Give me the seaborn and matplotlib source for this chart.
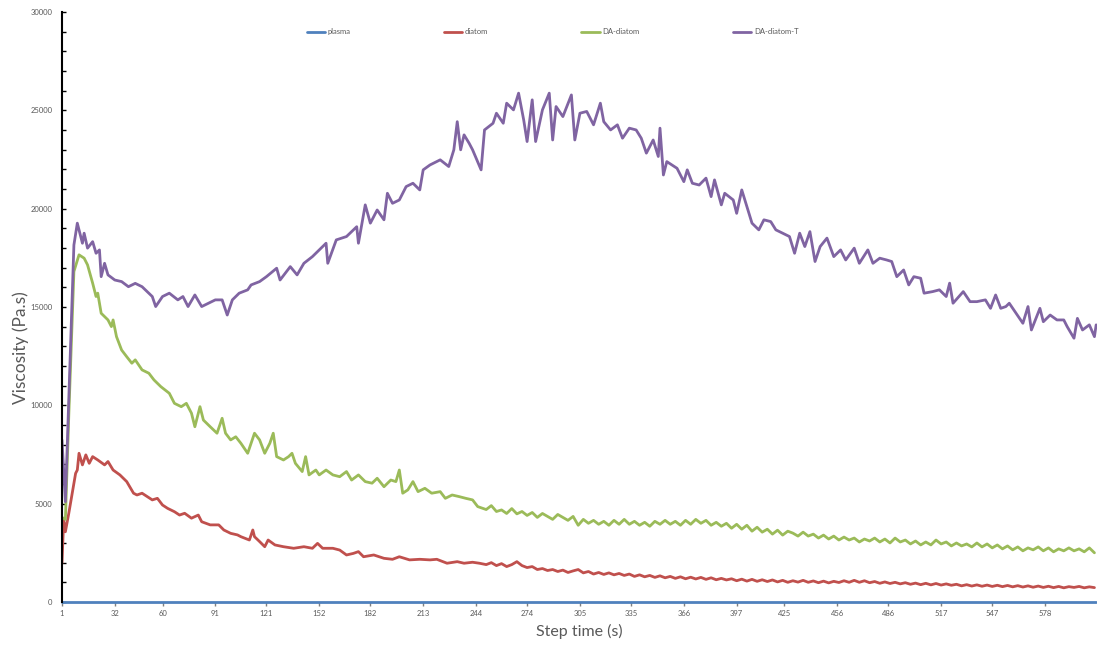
import numpy as np
import pandas as pd
import seaborn as sns
import matplotlib.pyplot as plt

# Шкала времени (с) и подписи оси X
tick_steps = [1, 32, 60, 91, 121, 152, 182, 213, 244, 274, 305, 335, 366, 397, 425, 456, 486, 517, 547, 578]

# plasma — практически нулевая вязкость
plasma_x = [1, 100, 200, 300, 400, 500, 608]
plasma_y = [10, 10, 10, 10, 10, 10, 10]

# diatom
diatom_x = [1, 2, 3, 5, 7, 9, 10, 11, 13, 15,
            17, 19, 22, 26, 28, 31, 35, 39, 43, 45,
            48, 51, 54, 57, 60, 63, 67, 70, 73, 77,
            81, 83, 88, 93, 96, 100, 104, 106, 111, 113,
            114, 117, 120, 122, 126, 131, 137, 143, 148, 151,
            154, 160, 164, 168, 172, 175, 178, 184, 190, 195,
            199, 205, 211, 217, 221, 227, 233, 237, 242, 246] + list(range(250, 608, 3))
diatom_y = [1970, 4170, 3570, 4510, 5530, 6540, 6710, 7560, 6970, 7480,
            7050, 7390, 7220, 6970, 7140, 6710, 6460, 6120, 5530, 5440,
            5530, 5360, 5190, 5270, 4930, 4760, 4590, 4420, 4510, 4260,
            4420, 4080, 3920, 3920, 3660, 3490, 3410, 3320, 3150, 3660,
            3320, 3070, 2810, 3150, 2900, 2810, 2730, 2810, 2730, 2980,
            2730, 2730, 2640, 2390, 2470, 2560, 2300, 2390, 2220, 2170,
            2300, 2140, 2170, 2140, 2170, 1970, 2050, 1970, 2020, 1970,
            1900, 2000, 1850, 1950, 1800, 1900, 2050, 1850, 1750, 1800,
            1650, 1700, 1600, 1650, 1550, 1620, 1500, 1580, 1650, 1480,
            1550, 1420, 1500, 1400, 1480, 1380, 1450, 1350, 1420, 1300,
            1380, 1280, 1350, 1250, 1330, 1230, 1300, 1200, 1280, 1180,
            1260, 1170, 1250, 1150, 1230, 1130, 1200, 1120, 1180, 1080,
            1160, 1060, 1150, 1050, 1130, 1040, 1120, 1020, 1100, 1000,
            1080, 1010, 1100, 1000, 1070, 980, 1060, 970, 1050, 990,
            1080, 1000, 1100, 1000, 1080, 980, 1040, 950, 1020, 940,
            1000, 920, 980, 900, 960, 880, 950, 870, 940, 860,
            920, 850, 900, 820, 880, 810, 870, 800, 860, 790,
            850, 780, 840, 770, 830, 760, 820, 750, 810, 740,
            800, 730, 790, 720, 780, 740, 790, 720, 770, 730]

# DA-diatom
da_x = [1, 3, 5, 8, 11, 14, 16, 19, 21, 22,
        24, 28, 30, 31, 33, 36, 39, 42, 44, 48,
        52, 55, 59, 64, 67, 71, 74, 77, 79, 82,
        84, 88, 92, 95, 97, 100, 103, 106, 110, 112,
        114, 117, 120, 123, 125, 127, 131, 134, 136, 138,
        142, 144, 146, 150, 152, 156, 160, 164, 168, 171,
        175, 179, 183, 186, 190, 194, 197, 199, 201, 204,
        207, 210, 214, 218, 223, 226, 230, 234, 238, 242,
        245] + list(range(250, 608, 3))
da_y = [4300, 4200, 9500, 16800, 17650, 17480, 17140, 16210, 15530, 15700,
        14680, 14340, 14000, 14340, 13490, 12810, 12470, 12140, 12310, 11800,
        11630, 11290, 10950, 10610, 10100, 9930, 10100, 9600, 8910, 9930,
        9250, 8910, 8580, 9340, 8580, 8240, 8400, 8070, 7560, 8070,
        8580, 8240, 7560, 8070, 8580, 7390, 7220, 7390, 7560, 7050,
        6630, 7390, 6460, 6710, 6460, 6710, 6460, 6370, 6630, 6200,
        6460, 6120, 6040, 6290, 5860, 6200, 6120, 6710, 5530, 5700,
        6120, 5610, 5780, 5530, 5610, 5270, 5440, 5360, 5270, 5190,
        4850,
        4700, 4900, 4600, 4680, 4500, 4750, 4480, 4600, 4400, 4550,
        4300, 4500, 4350, 4200, 4450, 4300, 4150, 4350, 3900, 4200,
        4000, 4150, 3950, 4100, 3900, 4150, 3950, 4200, 3950, 4100,
        3900, 4050, 3850, 4100, 3950, 4150, 3950, 4100, 3900, 4150,
        3950, 4200, 4000, 4150, 3900, 4050, 3850, 4000, 3750, 3950,
        3700, 3900, 3600, 3800, 3550, 3700, 3450, 3650, 3400, 3600,
        3500, 3350, 3550, 3350, 3450, 3250, 3400, 3200, 3350, 3150,
        3300, 3150, 3250, 3050, 3200, 3100, 3250, 3050, 3200, 3000,
        3250, 3050, 3150, 2950, 3100, 2900, 3050, 2900, 3150, 2950,
        3050, 2850, 3000, 2850, 2950, 2800, 3000, 2800, 2950, 2750,
        2900, 2700, 2850, 2650, 2800, 2600, 2750, 2650, 2800, 2600,
        2750, 2550, 2700, 2600, 2750, 2600, 2700, 2550, 2750, 2500]

# DA-diatom-T
dat_x = [1, 3, 8, 10, 13, 14, 16, 19, 21, 23,
         24, 26, 28, 32, 36, 40, 44, 48, 54, 56,
         60, 64, 69, 72, 75, 79, 83, 87, 91, 95,
         98, 101, 105, 110, 112, 117, 121, 127, 129, 135,
         139, 143, 148, 154, 156, 157, 162, 168, 174, 175,
         179, 182, 186, 190, 192, 195, 199, 203, 207, 211,
         213, 217, 223, 228, 231, 233, 235, 237, 240, 242,
         247, 249, 254, 256, 260, 262, 266, 269, 272, 274,
         277, 279, 283, 287, 289, 291, 295, 300, 302, 305,
         309, 313, 317, 319, 323, 327, 330, 334, 338, 341,
         344, 348, 351, 352, 354, 356, 362, 366, 368, 371,
         375, 379, 382, 384, 388, 390, 395, 397, 400, 403,
         406, 410, 413, 417, 420, 424, 428, 431, 434, 437,
         440, 443, 446, 450, 454, 458, 461, 466, 469, 474,
         477, 481, 485, 488, 491, 495, 498, 501, 505, 507,
         512, 516, 520, 522, 524, 530, 534, 538, 543, 546,
         549, 552, 555, 557, 561, 565, 568, 570, 575, 577,
         581, 585, 589, 591, 595, 597, 600, 604, 607, 608]
dat_y = [8240, 5100, 18150, 19260, 18240, 18750, 17990, 18320, 17730, 17900,
         16540, 17220, 16630, 16370, 16290, 16030, 16200, 16030, 15530, 15020,
         15530, 15700, 15360, 15530, 15020, 15610, 15020, 15190, 15360, 15360,
         14590, 15360, 15700, 15870, 16120, 16290, 16540, 16970, 16370, 17050,
         16630, 17220, 17560, 18070, 18240, 17220, 18410, 18580, 19080, 18240,
         20190, 19260, 19930, 19430, 20780, 20270, 20440, 21120, 21290, 20950,
         21970, 22220, 22480, 22140, 22990, 24420, 22990, 23750, 23320, 22990,
         21970, 24000, 24340, 24850, 24340, 25360, 25020, 25870, 24510, 23410,
         25530, 23410, 25020, 25870, 23490, 25190, 24680, 25780, 23490, 24850,
         24940, 24260, 25360, 24420, 24000, 24260, 23580, 24090, 24000, 23580,
         22820, 23490, 22650, 24090, 21710, 22390, 22050, 21370, 21970, 21290,
         21200, 21550, 20610, 21460, 20190, 20780, 20440, 19760, 20950, 20100,
         19260, 18920, 19430, 19340, 18920, 18750, 18580, 17730, 18750, 18070,
         18830, 17310, 18070, 18500, 17560, 17900, 17390, 17990, 17220, 17900,
         17220, 17480, 17390, 17310, 16540, 16880, 16120, 16540, 16460, 15700,
         15780, 15870, 15530, 16210, 15190, 15780, 15270, 15270, 15360, 14930,
         15610, 14930, 15020, 15190, 14680, 14170, 15020, 13830, 14930, 14250,
         14590, 14340, 14340, 14000, 13410, 14420, 13830, 14090, 13490, 14090]

series = [
    ('plasma', plasma_x, plasma_y, '#4F81BD'),
    ('diatom', diatom_x, diatom_y, '#C0504D'),
    ('DA-diatom', da_x, da_y, '#9BBB59'),
    ('DA-diatom-T', dat_x, dat_y, '#8064A2'),
]

sns.set_style('white')
plt.rcParams['font.family'] = ['Lato', 'DejaVu Sans']

fig = plt.figure(figsize=(10.97, 6.45), dpi=100)
ax = fig.add_axes([0.0565, 0.0667, 0.9435, 0.9148])

for name, xs, ys, color in series:
    df = pd.DataFrame({'step': xs, 'visc': ys})
    sns.lineplot(data=df, x='step', y='visc', ax=ax, color=color,
                 linewidth=2.0, label=name, estimator=None)
ax.lines[0].set_clip_on(False)
ax.lines[0].set_zorder(1)

ax.set_xlim(1, 608.5)
ax.set_ylim(0, 30000)
ax.set_xticks(tick_steps)
ax.set_xticklabels([str(t) for t in tick_steps])
ax.set_yticks(np.arange(0, 30001, 5000))
ax.set_yticks(np.arange(0, 30001, 1000), minor=True)

ax.tick_params(axis='x', direction='out', length=3, width=1, color='#7f7f7f',
               labelsize=5.5, labelcolor='#595959', pad=3, bottom=True)
ax.tick_params(axis='y', which='both', direction='in', length=3, width=1,
               color='#000000', labelsize=5.5, labelcolor='#595959', pad=7, left=True)

for s in ['top', 'right', 'bottom']:
    ax.spines[s].set_visible(False)
ax.spines['left'].set_color('#000000')
ax.spines['left'].set_linewidth(1.5)

ax.set_xlabel('Step time (s)', fontsize=11.5, color='#595959')
ax.set_ylabel('Viscosity (Pa.s)', fontsize=12.5, color='#595959')
ax.xaxis.set_label_coords(0.5, -0.037)
ax.yaxis.set_label_coords(-0.032, 0.4305)

ax.legend(loc='center', bbox_to_anchor=(0.474, 0.966), ncol=4, frameon=False,
          fontsize=5.5, labelcolor='#595959', handlelength=2.4,
          handletextpad=0.35, columnspacing=12.2)

fig.savefig('out.png', dpi=100)
